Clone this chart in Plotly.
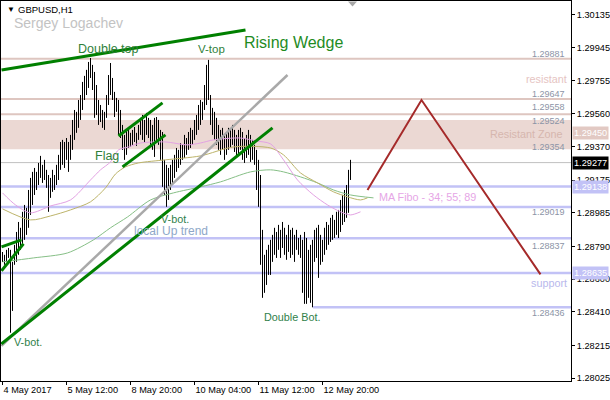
import plotly.graph_objects as go

# ---------------- data ----------------
bar_high = [
    1.28758, 1.28741, 1.28770, 1.28781, 1.28770, 1.28700, 1.28799, 1.28874, 1.28932, 1.28898,
    1.28991, 1.29031, 1.29014, 1.29118, 1.29188, 1.29223, 1.29246, 1.29223, 1.29275, 1.29316,
    1.29264, 1.29293, 1.29235, 1.29205, 1.29188, 1.29235, 1.29205, 1.29264, 1.29322, 1.29397,
    1.29409, 1.29397, 1.29420, 1.29397, 1.29438, 1.29525, 1.29583, 1.29572, 1.29641, 1.29670,
    1.29746, 1.29781, 1.29816, 1.29862, 1.29885, 1.29845, 1.29804, 1.29728, 1.29641, 1.29612,
    1.29583, 1.29572, 1.29670, 1.29786, 1.29856, 1.29769, 1.29688, 1.29653, 1.29641, 1.29583,
    1.29496, 1.29438, 1.29467, 1.29479, 1.29450, 1.29467, 1.29484, 1.29450, 1.29496, 1.29537,
    1.29554, 1.29525, 1.29566, 1.29537, 1.29525, 1.29496, 1.29537, 1.29542, 1.29525, 1.29467,
    1.29455, 1.29293, 1.29264, 1.29246, 1.29264, 1.29293, 1.29322, 1.29362, 1.29351, 1.29391,
    1.29380, 1.29438, 1.29420, 1.29455, 1.29479, 1.29467, 1.29525, 1.29554, 1.29612, 1.29641,
    1.29630, 1.29728, 1.29845, 1.29874, 1.29670, 1.29595, 1.29572, 1.29537, 1.29496, 1.29467,
    1.29479, 1.29438, 1.29455, 1.29479, 1.29467, 1.29496, 1.29467, 1.29438, 1.29467, 1.29479,
    1.29455, 1.29420, 1.29438, 1.29467, 1.29438, 1.29409, 1.29380, 1.29351, 1.29293, 1.29205,
    1.28886, 1.28741, 1.28770, 1.28799, 1.28828, 1.28857, 1.28898, 1.28874, 1.28915, 1.28886,
    1.28932, 1.28898, 1.28857, 1.28915, 1.28886, 1.28898, 1.28857, 1.28886, 1.28839, 1.28857,
    1.28828, 1.28874, 1.28839, 1.28770, 1.28799, 1.28828, 1.28886, 1.28898, 1.28915, 1.28857,
    1.28828, 1.28898, 1.28932, 1.28915, 1.28956, 1.28973, 1.28944, 1.28991, 1.29002, 1.29060,
    1.29089, 1.29118, 1.29147, 1.29235, 1.29293,
]
bar_low = [
    1.28700, 1.28683, 1.28700, 1.28723, 1.28288, 1.28415, 1.28683, 1.28700, 1.28741, 1.28770,
    1.28799, 1.28828, 1.28857, 1.28898, 1.28973, 1.29031, 1.29089, 1.29118, 1.29147, 1.29188,
    1.29159, 1.29176, 1.29130, 1.28991, 1.29072, 1.29107, 1.29118, 1.29147, 1.29176, 1.29235,
    1.29264, 1.29246, 1.29293, 1.29223, 1.29293, 1.29351, 1.29409, 1.29450, 1.29479, 1.29525,
    1.29583, 1.29641, 1.29670, 1.29711, 1.29769, 1.29699, 1.29537, 1.29554, 1.29496, 1.29513,
    1.29479, 1.29467, 1.29537, 1.29612, 1.29670, 1.29641, 1.29542, 1.29572, 1.29438, 1.29420,
    1.29351, 1.29293, 1.29322, 1.29362, 1.29368, 1.29380, 1.29397, 1.29374, 1.29409, 1.29438,
    1.29409, 1.29391, 1.29438, 1.29420, 1.29380, 1.29351, 1.29310, 1.29409, 1.29380, 1.29293,
    1.29136, 1.29089, 1.29020, 1.29060, 1.29118, 1.29147, 1.29188, 1.29223, 1.29246, 1.29264,
    1.29293, 1.29304, 1.29322, 1.29351, 1.29362, 1.29380, 1.29409, 1.29438, 1.29467, 1.29496,
    1.29525, 1.29583, 1.29612, 1.29641, 1.29496, 1.29438, 1.29409, 1.29380, 1.29351, 1.29322,
    1.29351, 1.29293, 1.29322, 1.29351, 1.29362, 1.29380, 1.29339, 1.29304, 1.29322, 1.29351,
    1.29293, 1.29275, 1.29304, 1.29322, 1.29281, 1.29293, 1.29264, 1.29118, 1.29020, 1.28683,
    1.28491, 1.28520, 1.28566, 1.28624, 1.28624, 1.28700, 1.28741, 1.28723, 1.28770, 1.28723,
    1.28781, 1.28741, 1.28712, 1.28758, 1.28723, 1.28741, 1.28700, 1.28770, 1.28741, 1.28723,
    1.28520, 1.28456, 1.28456, 1.28491, 1.28462, 1.28436, 1.28700, 1.28723, 1.28607, 1.28683,
    1.28700, 1.28741, 1.28770, 1.28799, 1.28816, 1.28828, 1.28839, 1.28857, 1.28839, 1.28874,
    1.28915, 1.28932, 1.28956, 1.28985, 1.29176,
]
bar_index = list(range(len(bar_high)))

# moving averages (MA Fibo 34 / 55 / 89), read as points
ma34_x = [0, 6.5, 14, 24, 34, 44, 49, 54, 58, 63, 69, 81.5, 92.5, 99, 105.5, 119, 126.5,
          134, 140.5, 147.5, 155.5, 162.5, 169, 174, 179]
ma34_y = [1.29101, 1.29031, 1.28985, 1.29025, 1.29060, 1.29176, 1.29235, 1.29281, 1.29351,
          1.29368, 1.29391, 1.29397, 1.29380, 1.29391, 1.29409, 1.29420, 1.29403, 1.29386,
          1.29293, 1.29176, 1.29089, 1.29031, 1.28991, 1.28973, 1.28991]
ma55_x = [0, 14, 24, 34, 44, 51.5, 56.5, 61.5, 68, 81.5, 99, 115.5, 134, 140.5, 149, 157.5,
          165.5, 172.5, 179, 182.5]
ma55_y = [1.29008, 1.28944, 1.28967, 1.29002, 1.29049, 1.29130, 1.29211, 1.29252, 1.29275,
          1.29293, 1.29316, 1.29368, 1.29362, 1.29322, 1.29217, 1.29159, 1.29107, 1.29078,
          1.29060, 1.29072]
ma89_x = [0, 15.5, 32.5, 45.5, 54, 62.5, 74, 85.5, 99, 109, 124, 134, 140.5, 149, 157.5,
          165.5, 174, 185.5]
ma89_y = [1.28700, 1.28723, 1.28752, 1.28828, 1.28898, 1.28961, 1.29060, 1.29101, 1.29136,
          1.29165, 1.29223, 1.29235, 1.29223, 1.29194, 1.29159, 1.29118, 1.29089, 1.29072]

# axis ticks
y_tick_vals = [1.30135, 1.29945, 1.29755, 1.29560, 1.29370, 1.29175, 1.28985, 1.28790,
               1.28600, 1.28410, 1.28215, 1.28025]
x_tick_idx = [0, 32, 64, 96, 128, 160]
x_tick_text = ["4 May 2017", "5 May 12:00", "8 May 20:00", "10 May 04:00",
               "11 May 12:00", "12 May 20:00"]

# horizontal levels
resist_levels = [1.29881, 1.29647, 1.29558]
zone_top, zone_bottom, zone_tag = 1.29524, 1.29354, 1.29450
current_price = 1.29277
support_levels = [1.29138, 1.29019, 1.28837, 1.28635]
dbl_bottom_level, dbl_bottom_start = 1.28436, 155.3

# trend lines / drawings (bar index, price)
wedge_upper_x, wedge_upper_y = [-0.5, 121.5], [1.29815, 1.30048]
wedge_lower_x, wedge_lower_y = [-0.5, 135], [1.28224, 1.29479]
gray_trend_x, gray_trend_y = [-0.5, 142.5], [1.28212, 1.29786]
flag_upper_x, flag_upper_y = [58, 80], [1.29432, 1.29624]
flag_lower_x, flag_lower_y = [60, 81.5], [1.29252, 1.29438]
small_a_x, small_a_y = [-0.5, 9.5], [1.28787, 1.28828]
small_b_x, small_b_y = [-0.5, 10.5], [1.28648, 1.28805]
forecast_x, forecast_y = [182.5, 209.5, 269], [1.29118, 1.29641, 1.28627]

# ---------------- figure ----------------
W, H = 610, 400
ML, MR, MT, MB = 1, 39, 1, 19
PW, PH = W - ML - MR, H - MT - MB
FONT = "Liberation Sans, Arial, sans-serif"


def px2x(px):
    return (px - ML) / PW


def px2y(py):
    return 1 - (py - MT) / PH


fig = go.Figure()

# bars (high-low sticks)
bx, by = [], []
for i, h, l in zip(bar_index, bar_high, bar_low):
    bx += [i, i, None]
    by += [h, l, None]
fig.add_trace(go.Scatter(x=bx, y=by, mode="lines", line=dict(color="black", width=1),
                         hoverinfo="skip", showlegend=False))

# moving averages
for xs, ys, col in [(ma89_x, ma89_y, "#86bf86"), (ma55_x, ma55_y, "#bdb46a"),
                    (ma34_x, ma34_y, "#e3a2e3")]:
    fig.add_trace(go.Scatter(x=xs, y=ys, mode="lines",
                             line=dict(color=col, width=1, shape="spline", smoothing=0.8),
                             hoverinfo="skip", showlegend=False))

# drawings
for xs, ys, col, w in [
    (gray_trend_x, gray_trend_y, "#a9a9a9", 2.5),
    (wedge_upper_x, wedge_upper_y, "#008000", 3),
    (wedge_lower_x, wedge_lower_y, "#008000", 3),
    (flag_upper_x, flag_upper_y, "#008000", 3),
    (flag_lower_x, flag_lower_y, "#008000", 3),
    (small_a_x, small_a_y, "#008000", 3),
    (small_b_x, small_b_y, "#008000", 3),
    (forecast_x, forecast_y, "#a52a2a", 2),
]:
    fig.add_trace(go.Scatter(x=xs, y=ys, mode="lines", line=dict(color=col, width=w),
                             hoverinfo="skip", showlegend=False))

shapes = []
shapes.append(dict(type="rect", xref="paper", yref="y", x0=0, x1=1, y0=zone_bottom, y1=zone_top,
                   fillcolor="#ebd8d3", line=dict(width=0), layer="below"))
for lv in resist_levels:
    shapes.append(dict(type="line", xref="paper", yref="y", x0=0, x1=1, y0=lv, y1=lv,
                       line=dict(color="#dec6c0", width=2), layer="below"))
shapes.append(dict(type="line", xref="paper", yref="y", x0=0, x1=1, y0=current_price,
                   y1=current_price, line=dict(color="#c0c0c0", width=1), layer="below"))
for lv in support_levels:
    shapes.append(dict(type="line", xref="paper", yref="y", x0=0, x1=1, y0=lv, y1=lv,
                       line=dict(color="#c2c2f6", width=2.5), layer="below"))
shapes.append(dict(type="line", xref="x", yref="y", x0=dbl_bottom_start, x1=284.25,
                   y0=dbl_bottom_level, y1=dbl_bottom_level,
                   line=dict(color="#c2c2f6", width=2.5), layer="below"))
# chart-shift marker (small gray triangle at the top edge)
tx0, tx1, ty0, ty1 = px2x(348), px2x(357), px2y(1.5), px2y(6.5)
shapes.append(dict(type="path", xref="paper", yref="paper",
                   path=f"M{tx0},{ty0} L{tx1},{ty0} L{(tx0 + tx1) / 2},{ty1} Z",
                   fillcolor="#a8a8a8", line=dict(width=0), layer="above"))

ann = []


def text_px(t, px, py, size, color, anchor="left"):
    ann.append(dict(text=t, xref="paper", yref="paper", x=px2x(px), y=px2y(py),
                    xanchor=anchor, yanchor="middle", showarrow=False,
                    font=dict(family=FONT, size=size, color=color)))


text_px("▼", 4.5, 9.5, 8, "black")
text_px("GBPUSD,H1", 16, 9.3, 9.5, "black")
text_px("Sergey Logachev", 11.5, 22.7, 14, "#c3c3c3")
text_px("Double top", 76, 49, 12.5, "#2f7f3a")
text_px("V-top", 196, 48.5, 11.5, "#2f7f3a")
text_px("Rising Wedge", 242, 42.7, 16, "#1f8c1f")
text_px("Flag", 93, 156, 12.5, "#2f7f3a")
text_px("V-bot.", 159, 219, 10.8, "#2f7f4a")
text_px("local Up trend", 132, 230.5, 12, "#8ea8c8")
text_px("V-bot.", 11.7, 341.7, 10.8, "#2f7f4a")
text_px("Double Bot.", 262, 317, 10.8, "#2f7f4a")
text_px("MA Fibo - 34; 55; 89", 377, 197, 10.8, "#e6a6e6")
text_px("resistant", 569, 79.3, 10.8, "#e6c4c2", "right")
text_px("Resistant Zone", 564.5, 134, 10.8, "#d6b6ae", "right")
text_px("support", 569.3, 282.7, 10.8, "#b8b8ec", "right")

gray_labels = [("1.29881", 54), ("1.29647", 94), ("1.29558", 107.3), ("1.29524", 120.7),
               ("1.29354", 147), ("1.29019", 212.3), ("1.28837", 245.7), ("1.28436", 313.3)]
for t, py in gray_labels:
    text_px(t, 567, py, 9, "#8c94a6", "right")

# price tags on the axis
for val, bg in [(zone_tag, "#e2c9c3"), (current_price, "#000000"),
                (support_levels[0], "#c2c2f6"), (support_levels[3], "#c2c2f6")]:
    ann.append(dict(text=f"{val:.5f}", xref="paper", yref="y", x=1, y=val, xanchor="left",
                    yanchor="middle", xshift=1, showarrow=False, bgcolor=bg, borderpad=1,
                    font=dict(family=FONT, size=9.2, color="white")))

fig.update_layout(
    width=W, height=H,
    margin=dict(l=ML, r=MR, t=MT, b=MB, pad=0, autoexpand=False),
    paper_bgcolor="white", plot_bgcolor="white",
    showlegend=False, hovermode=False,
    shapes=shapes, annotations=ann,
    xaxis=dict(range=[-0.75, 284.25], showgrid=False, zeroline=False, automargin=False,
               showline=True, mirror=True, linecolor="black", linewidth=1,
               tickmode="array", tickvals=x_tick_idx, ticktext=x_tick_text, tickangle=0,
               ticks="outside", ticklen=3, tickcolor="black",
               ticklabelposition="outside right",
               tickfont=dict(family=FONT, size=9.2, color="black")),
    yaxis=dict(range=[1.280076, 1.302163], side="right", showgrid=False, zeroline=False,
               automargin=False,
               showline=True, mirror=True, linecolor="black", linewidth=1,
               tickmode="array", tickvals=y_tick_vals,
               ticktext=[f"{v:.5f}" for v in y_tick_vals],
               ticks="outside", ticklen=3, tickcolor="black",
               tickfont=dict(family=FONT, size=9.2, color="black")),
)

post = (
    "document.body.style.margin='0';document.body.style.overflow='hidden';"
    "var p=document.querySelector('.scatterlayer .trace path.js-line');"
    "if(p){p.style.shapeRendering='crispEdges';}"
)
fig.write_html("out.html", config={"displayModeBar": False}, post_script=post)
